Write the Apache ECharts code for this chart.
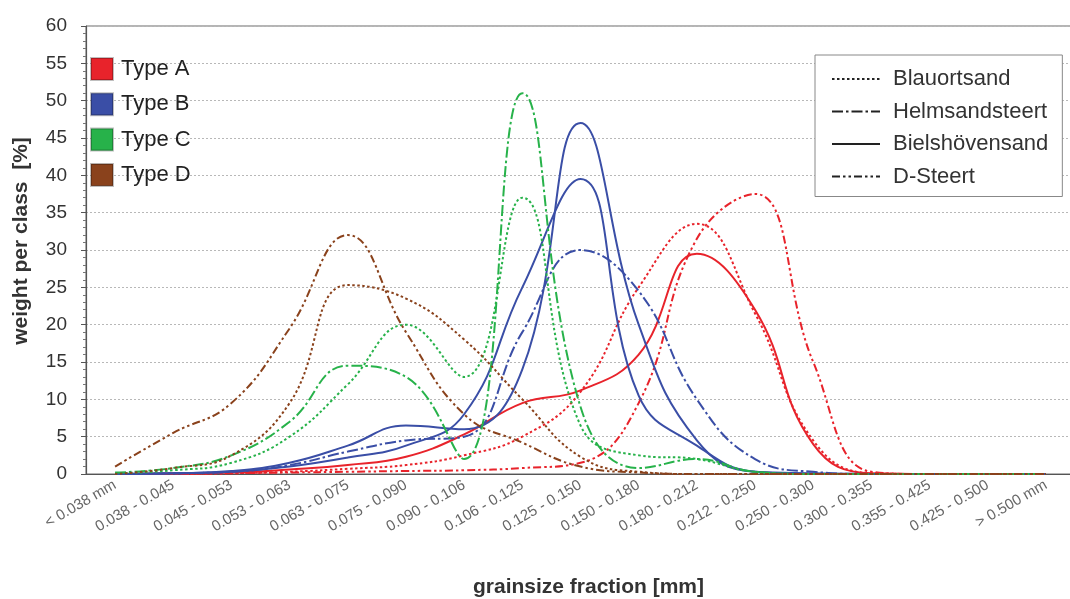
<!DOCTYPE html>
<html>
<head>
<meta charset="utf-8">
<script src="https://cdn.jsdelivr.net/npm/echarts@6/dist/echarts.min.js"></script>
<style>html,body{margin:0;padding:0;background:#fff;}#c{width:1070px;height:599px;}</style>
</head>
<body>
<div id="c"></div>
<script>
// ---- data ----
var categories = ['< 0.038 mm','0.038 - 0.045','0.045 - 0.053','0.053 - 0.063','0.063 - 0.075','0.075 - 0.090','0.090 - 0.106','0.106 - 0.125','0.125 - 0.150','0.150 - 0.180','0.180 - 0.212','0.212 - 0.250','0.250 - 0.300','0.300 - 0.355','0.355 - 0.425','0.425 - 0.500','> 0.500 mm'];
var yTicks = [0,5,10,15,20,25,30,35,40,45,50,55,60];
var typeNames = ['Type A','Type B','Type C','Type D'];
var siteNames = ['Blauortsand','Helmsandsteert','Bielshövensand','D-Steert'];

// Type A (red)
var typeA_Bielshoevensand = [0, 0.1, 0.2, 0.6, 1.2, 2.3, 5.3, 9.5, 11.2, 16, 29.5, 22, 4, 0.1, 0, 0, 0];
var typeA_Blauortsand     = [0, 0, 0.1, 0.3, 0.7, 1.2, 2.5, 5, 11, 25, 33.5, 21.5, 4.5, 0.1, 0, 0, 0];
var typeA_DSteert         = [0, 0, 0.1, 0.2, 0.3, 0.4, 0.5, 0.8, 1.5, 9.5, 31.5, 37.5, 15, 0.3, 0, 0, 0];
// Type B (blue)
var typeB_Bielshoevensand1 = [0, 0.1, 0.4, 1.5, 3.8, 6.5, 6, 14, 47, 20, 4.5, 0.3, 0.1, 0, 0, 0, 0];
var typeB_Bielshoevensand2 = [0, 0.1, 0.3, 1, 2.2, 3.8, 8, 25, 39.5, 10.5, 3.8, 0.3, 0, 0, 0, 0, 0];
var typeB_Helmsandsteert   = [0, 0.1, 0.3, 1.2, 3, 4.5, 5, 19, 30, 24.5, 10, 2, 0.3, 0, 0, 0, 0];
// Type C (green)
var typeC_Helmsandsteert = [0.2, 0.8, 2.5, 7, 14.5, 13, 2, 51, 9, 0.8, 2, 0.3, 0, 0, 0, 0, 0];
var typeC_Blauortsand    = [0.1, 0.5, 1.5, 5, 12, 20, 13, 37, 6.5, 2.5, 2, 0.3, 0, 0, 0, 0, 0];
// Type D (brown)
var typeD_DSteert     = [1, 5.5, 9.5, 19.5, 32, 19, 8, 4.2, 1, 0.2, 0, 0, 0, 0, 0, 0, 0];
var typeD_Blauortsand = [0, 0.8, 2.5, 9.5, 25.3, 23.5, 18, 10, 2.3, 0.3, 0, 0, 0, 0, 0, 0, 0];

// ---- styles ----
var FONT = 'Liberation Sans, Arial, sans-serif';
var colors = {'Type A':'#e8232b','Type B':'#3a4ea6','Type C':'#27b24a','Type D':'#8a421c'};
var dashes = {
  'Blauortsand':[2.5,2.5],
  'Helmsandsteert':[11,3,2.5,3],
  'Bielshövensand':'solid',
  'D-Steert':[8,3,2.5,3,2.5,3]
};

var curves = [
  ['Type A','Bielshövensand',typeA_Bielshoevensand],
  ['Type A','Blauortsand',typeA_Blauortsand],
  ['Type A','D-Steert',typeA_DSteert],
  ['Type B','Bielshövensand',typeB_Bielshoevensand1],
  ['Type B','Bielshövensand',typeB_Bielshoevensand2],
  ['Type B','Helmsandsteert',typeB_Helmsandsteert],
  ['Type C','Helmsandsteert',typeC_Helmsandsteert],
  ['Type C','Blauortsand',typeC_Blauortsand],
  ['Type D','D-Steert',typeD_DSteert],
  ['Type D','Blauortsand',typeD_Blauortsand]
];

var series = [];
typeNames.forEach(function(t){
  series.push({name:t,type:'line',data:[],color:colors[t],symbol:'none',
    itemStyle:{color:colors[t],borderColor:'rgba(0,0,0,0.25)',borderWidth:1}});
});
siteNames.forEach(function(s){
  series.push({name:s,type:'line',data:[],color:'#222',symbol:'none',symbolSize:0,
    lineStyle:{type:dashes[s],width:s==='Bielshövensand'?2.5:2,color:'#222'}});
});
curves.forEach(function(c,i){
  series.push({
    name:c[0]+' – '+c[1]+' '+i,type:'line',data:c[2],smooth:0.45,symbol:'none',
    color:colors[c[0]],
    lineStyle:{type:dashes[c[1]],width:2,color:colors[c[0]]},
    z:3
  });
});

var chart = echarts.init(document.getElementById('c'),null,{renderer:'canvas'});
chart.setOption({
  animation:false,
  backgroundColor:'#fff',
  textStyle:{fontFamily:FONT},
  grid:{left:86,top:26,right:-5,bottom:125,outerBoundsMode:'none',containLabel:false,
        show:true,borderColor:'#6a6a6a',borderWidth:1,backgroundColor:'transparent'},
  legend:[
    {data:typeNames.map(function(n){return {name:n,icon:'rect'};}),
     orient:'vertical',left:90,top:57,itemWidth:22,itemHeight:22,itemGap:11.3,
     textStyle:{fontSize:22,color:'#222',fontFamily:FONT,padding:[0,0,0,3]},
     selectedMode:false,padding:0},
    {data:siteNames,orient:'vertical',left:815,top:55,itemWidth:48,itemHeight:14,itemGap:8.5,
     padding:[12,14,8,16],borderColor:'#888',borderWidth:1,backgroundColor:'#fff',
     itemStyle:{color:'transparent',borderWidth:0,opacity:0},
     textStyle:{fontSize:22,color:'#333',padding:[0,0,0,8],lineHeight:24,fontFamily:FONT},
     selectedMode:false}
  ],
  xAxis:{
    type:'category',data:categories,boundaryGap:true,
    axisLine:{lineStyle:{color:'#555',width:1.2}},
    axisTick:{alignWithLabel:true,length:7,lineStyle:{color:'#555'}},
    axisLabel:{rotate:30,fontSize:15,color:'#666',margin:10,interval:0},
    splitLine:{show:false},
    name:'grainsize fraction [mm]',nameLocation:'middle',nameGap:103,
    nameTextStyle:{fontSize:21,fontWeight:'bold',color:'#333',padding:[0,0,0,16]}
  },
  yAxis:{
    type:'value',min:yTicks[0],max:yTicks[yTicks.length-1],interval:5,
    axisLine:{show:true,lineStyle:{color:'#555',width:1.2}},
    axisTick:{show:true,length:5,lineStyle:{color:'#555'}},
    minorTick:{show:true,splitNumber:5,length:3,lineStyle:{color:'#777'}},
    axisLabel:{fontSize:19,color:'#333',margin:19},
    splitLine:{show:true,lineStyle:{color:'#b8b8b8',type:[2,2],width:1}},
    name:'weight per class  [%]',nameLocation:'middle',nameGap:54,
    nameTextStyle:{fontSize:21,fontWeight:'bold',color:'#333',padding:[0,0,0,18]}
  },
  series:series
});
</script>
</body>
</html>
